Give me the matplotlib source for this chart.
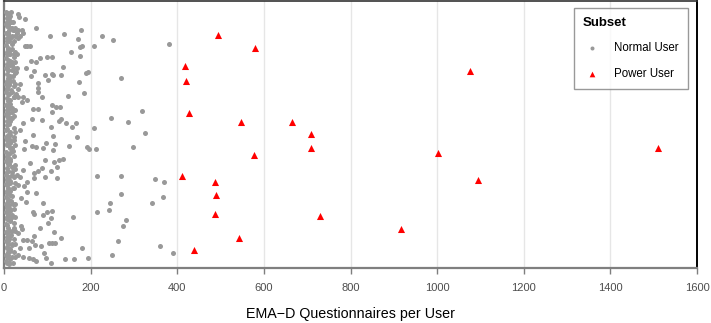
import numpy as np
import matplotlib
matplotlib.use("Agg")
import matplotlib.pyplot as plt

plt.rcParams['font.family'] = ['Liberation Sans', 'DejaVu Sans']

# EMA-D questionnaires per user, jitter position (0 = bottom, 1 = top)
normal_x = [
    10, 16, 12, 8, 33, 35,
    8, 14, 20, 10, 18, 25, 33, 41, 45, 12, 22, 29, 37, 10, 18, 25, 33, 14, 22, 8,
    52, 60, 48,
    10, 18, 25, 14, 22, 29, 8,
    10, 18, 25, 14, 22, 8, 29, 18, 10, 25, 14, 20,
    8, 15, 25, 37, 12, 22, 33, 8, 18, 28, 10, 22, 33, 45, 52, 41, 14,
    10, 18, 25, 12, 22, 8, 18, 14,
    8, 25, 14, 22, 10,
    48.5, 73, 107, 139, 177, 170, 226, 252, 380, 208, 175, 179, 155, 175, 111, 99,
    84, 75, 62, 137, 51, 69, 189, 195, 94, 111, 114, 132, 62, 101, 270, 173,
    78, 78, 78, 88, 185, 148, 111, 120, 130, 68, 78, 319, 110, 131, 126, 142,
    166, 88, 65, 246, 287, 156, 108, 207, 45, 37, 326, 67, 113, 169,
    48, 97, 118, 150, 64, 74, 90, 114, 191, 196, 212, 298, 47, 95, 115, 126,
    137, 60, 122, 108, 88, 78, 70, 43, 215, 270, 349, 370, 94, 69, 122, 53,
    46, 52, 73, 270, 366, 342, 245, 243, 215, 39, 50, 89, 99, 111, 67, 70,
    89, 159, 108, 102, 282, 274, 83, 42, 40, 116, 132, 45, 52, 70, 65, 71,
    103, 118, 110, 263, 180, 360, 85, 37, 58, 92, 97, 390, 249, 140, 162, 195,
    45, 58, 68, 108, 74,
    8, 14, 22, 10, 18, 25, 6, 14, 22, 8, 15, 10, 18, 25, 8, 18, 29, 37, 10, 22,
    8, 14, 25, 33, 10, 22, 14, 8, 18, 10, 20, 25, 8, 14, 22, 10, 18, 25, 8, 14,
    22, 10, 18, 25, 33, 8, 14, 22, 10, 18, 25, 8, 14, 22, 33, 10, 18, 25, 12, 20, 8,
]
normal_y = [
    0.95, 0.96, 0.94, 0.95, 0.95, 0.94,
    0.92, 0.92, 0.92, 0.91, 0.90, 0.90, 0.89, 0.89, 0.88, 0.89, 0.89, 0.88, 0.87, 0.88, 0.87, 0.87, 0.86, 0.86, 0.85, 0.85,
    0.83, 0.83, 0.83,
    0.82, 0.82, 0.81, 0.80, 0.80, 0.80, 0.80,
    0.78, 0.77, 0.77, 0.76, 0.75, 0.75, 0.75, 0.74, 0.74, 0.73, 0.72, 0.72,
    0.70, 0.70, 0.69, 0.69, 0.69, 0.68, 0.67, 0.67, 0.66, 0.65, 0.65, 0.64, 0.64, 0.64, 0.63, 0.62, 0.63,
    0.60, 0.60, 0.59, 0.58, 0.57, 0.57, 0.56, 0.55,
    0.52, 0.51, 0.50, 0.49, 0.49,
    0.933, 0.900, 0.870, 0.876, 0.891, 0.859, 0.868, 0.853, 0.840, 0.833, 0.829, 0.831, 0.808, 0.794, 0.791, 0.791,
    0.788, 0.772, 0.774, 0.753, 0.748, 0.739, 0.731, 0.734, 0.723, 0.727, 0.722, 0.722, 0.720, 0.704, 0.712, 0.697,
    0.692, 0.674, 0.659, 0.640, 0.657, 0.643, 0.609, 0.604, 0.604, 0.596, 0.596, 0.587, 0.583, 0.558, 0.549, 0.544,
    0.544, 0.553, 0.559, 0.561, 0.548, 0.528, 0.527, 0.524, 0.543, 0.517, 0.507, 0.499, 0.496, 0.492,
    0.476, 0.467, 0.464, 0.457, 0.458, 0.454, 0.448, 0.442, 0.452, 0.446, 0.446, 0.452, 0.445, 0.404, 0.396, 0.404,
    0.409, 0.392, 0.379, 0.363, 0.376, 0.364, 0.357, 0.367, 0.345, 0.346, 0.332, 0.323, 0.340, 0.338, 0.338, 0.321,
    0.307, 0.286, 0.282, 0.278, 0.267, 0.245, 0.243, 0.216, 0.211, 0.261, 0.246, 0.242, 0.211, 0.215, 0.211, 0.203,
    0.199, 0.190, 0.187, 0.169, 0.180, 0.157, 0.149, 0.147, 0.156, 0.136, 0.111, 0.105, 0.105, 0.120, 0.102, 0.087,
    0.094, 0.093, 0.093, 0.102, 0.075, 0.084, 0.082, 0.074, 0.074, 0.055, 0.039, 0.056, 0.048, 0.034, 0.035, 0.037,
    0.042, 0.039, 0.033, 0.019, 0.026,
    0.48, 0.47, 0.48, 0.46, 0.45, 0.46, 0.42, 0.43, 0.42, 0.40, 0.40, 0.39, 0.38, 0.37, 0.36, 0.35, 0.35, 0.34, 0.34, 0.34,
    0.33, 0.32, 0.32, 0.31, 0.30, 0.30, 0.29, 0.28, 0.27, 0.25, 0.24, 0.24, 0.23, 0.22, 0.22, 0.20, 0.20, 0.19, 0.19, 0.18,
    0.17, 0.15, 0.14, 0.14, 0.13, 0.13, 0.12, 0.11, 0.10, 0.09, 0.09, 0.08, 0.07, 0.06, 0.05, 0.05, 0.04, 0.04, 0.02, 0.02, 0.02,
]

# the solid band of low-count users hugging the left edge
dense_x = [
    5, 9, 13, 6, 11, 17, 4, 8, 14, 20,
    5, 10, 16, 7, 12, 19, 4, 9, 15, 6,
    11, 23, 5, 13, 8, 18, 4, 10, 27, 6,
    14, 9, 21, 5, 12, 7, 16, 4, 11, 24,
    6, 9, 15, 5, 13, 8, 19, 4, 10, 17,
    6, 12, 7, 22, 5, 14, 9, 4, 11, 16,
    6, 8, 13, 20, 5, 10, 7, 15, 4, 12,
    26, 6, 9, 18, 5, 11, 8, 14, 4, 7,
    21, 6, 10, 13, 5, 9, 16, 4, 12, 7,
    15, 5, 10, 19, 6, 13, 4, 8, 22, 11,
    5, 16, 7, 12, 4, 9, 18, 6, 14, 10,
    5, 8, 13, 4, 11,
]
dense_y = [
    0.96, 0.955, 0.945, 0.935, 0.93, 0.92, 0.915, 0.905, 0.9, 0.89,
    0.88, 0.875, 0.865, 0.86, 0.85, 0.84, 0.835, 0.825, 0.815, 0.81,
    0.8, 0.79, 0.785, 0.775, 0.765, 0.76, 0.75, 0.74, 0.735, 0.725,
    0.715, 0.71, 0.7, 0.69, 0.685, 0.675, 0.665, 0.66, 0.65, 0.64,
    0.635, 0.625, 0.615, 0.61, 0.6, 0.59, 0.585, 0.575, 0.565, 0.56,
    0.55, 0.54, 0.535, 0.525, 0.515, 0.51, 0.5, 0.49, 0.485, 0.475,
    0.465, 0.46, 0.45, 0.44, 0.435, 0.425, 0.415, 0.41, 0.4, 0.39,
    0.385, 0.375, 0.365, 0.36, 0.35, 0.34, 0.335, 0.325, 0.315, 0.31,
    0.3, 0.29, 0.285, 0.275, 0.265, 0.26, 0.25, 0.24, 0.235, 0.225,
    0.215, 0.21, 0.2, 0.19, 0.185, 0.175, 0.165, 0.16, 0.15, 0.14,
    0.135, 0.125, 0.115, 0.11, 0.1, 0.09, 0.085, 0.075, 0.065, 0.06,
    0.05, 0.04, 0.035, 0.025, 0.015,
]

power_x = [495, 580, 419, 421, 427, 547, 666, 709, 708, 578, 411, 487,
           489, 488, 730, 542, 439, 917, 1001, 1077, 1094, 1511]
power_y = [0.873, 0.825, 0.758, 0.701, 0.579, 0.546, 0.546, 0.502, 0.449, 0.422, 0.345, 0.323,
           0.273, 0.202, 0.196, 0.111, 0.066, 0.145, 0.431, 0.737, 0.330, 0.449]

x_ticks = [0, 200, 400, 600, 800, 1000, 1200, 1400, 1600]

fig = plt.figure(figsize=(7.11, 3.23), dpi=100)
ax = fig.add_axes([4 / 711, 55 / 323, 693 / 711, 267 / 323])

ax.scatter(normal_x + dense_x, normal_y + dense_y, s=13, color='#999999', linewidths=0,
           label='Normal User', zorder=3)
ax.scatter(power_x, power_y, s=26, marker='^', color='#ff0000', linewidths=0,
           label='Power User', zorder=3)

ax.set_xlim(0, 1600)
ax.set_ylim(0, 1)
ax.set_xticks(x_ticks)
ax.set_xticklabels([str(t) for t in x_ticks])
ax.set_yticks([])
ax.grid(axis='x', color='#e6e6e6', linewidth=1)
ax.set_axisbelow(True)

ax.tick_params(axis='x', length=4, width=1, color='#7f7f7f', labelcolor='#4d4d4d', labelsize=8, pad=7)
for side in ['left', 'bottom']:
    ax.spines[side].set_color('#7f7f7f')
    ax.spines[side].set_linewidth(1.6)
ax.spines['top'].set_color('#333333')
ax.spines['top'].set_linewidth(1.2)
ax.spines['right'].set_color('#000000')
ax.spines['right'].set_linewidth(1.4)

ax.set_xlabel('EMA\u2212D Questionnaires per User', fontsize=10.3, labelpad=10)

leg = ax.legend(title='Subset', loc='upper right', bbox_to_anchor=(688 / 711, 315 / 323),
                bbox_transform=fig.transFigure, borderaxespad=0,
                fontsize=8.3, title_fontsize=9.5, frameon=True, fancybox=False,
                edgecolor='#808080', handlelength=1.6, handletextpad=1.1, borderpad=0.8,
                labelspacing=1.15, markerscale=0.8)
leg.get_title().set_fontweight('bold')
leg._legend_box.align = 'left'
leg.get_frame().set_linewidth(1)

fig.savefig('out.png', dpi=100)
